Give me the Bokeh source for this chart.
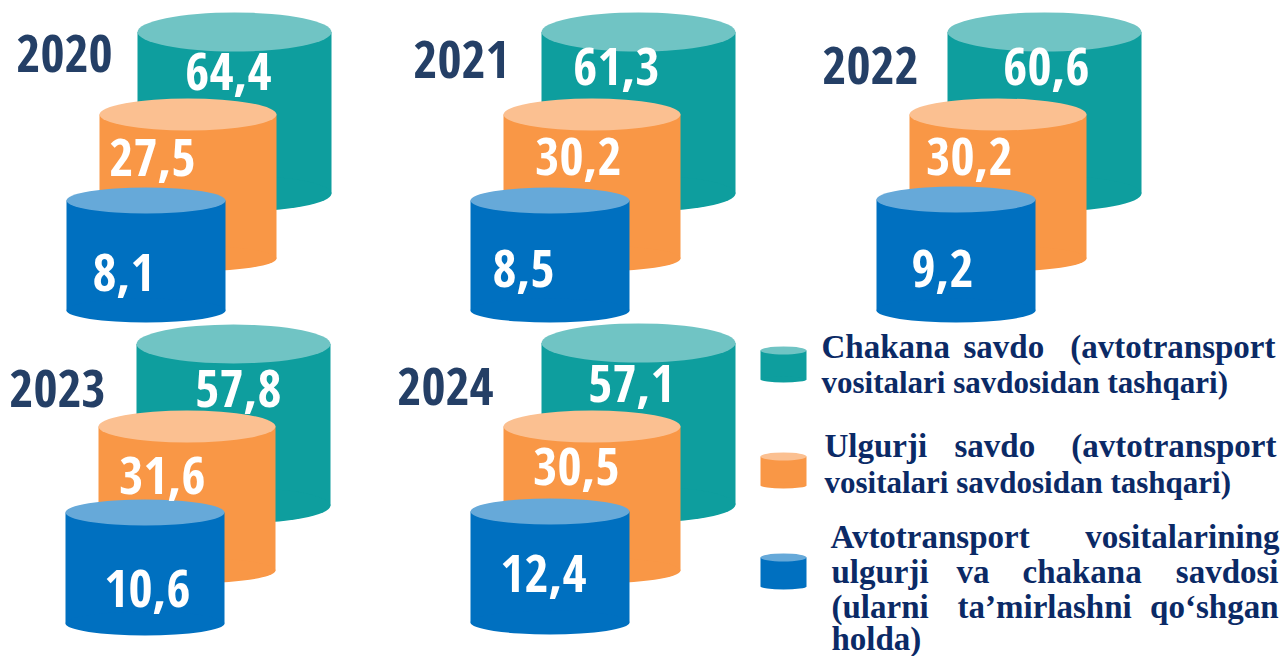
from bokeh.plotting import figure
from bokeh.embed import file_html
from bokeh.resources import INLINE
from bokeh.core.properties import value

# ---------- data ----------
years = ["2020", "2021", "2022", "2023", "2024"]
retail = [64.4, 61.3, 60.6, 57.8, 57.1]
wholesale = [27.5, 30.2, 30.2, 31.6, 30.5]
auto = [8.1, 8.5, 9.2, 10.6, 12.4]

# ---------- layout (pixels) ----------
W, H = 1283, 656
SIDE = {"teal": "#0E9E9E", "orange": "#F99746", "blue": "#0070C0"}
TOP = {"teal": "#70C4C4", "orange": "#FBC091", "blue": "#66A9D9"}
NAVY = "#243F66"
LEG = "#0B2A66"
NUM_FONT = value("Open Sans Condensed")
NUM_SHIFT = 22   # the font's rendered baseline sits below the requested y

# x-left, x-right, top y, bottom y per panel
teal_box = [(137, 331, 12, 211), (541, 735, 12, 211), (947, 1141, 12, 211), (136, 330, 324, 523), (541, 735, 323, 522)]
orange_box = [(99, 276, 98, 271), (503, 680, 98, 271), (909, 1086, 98, 271), (98, 275, 410, 583), (503, 680, 410, 583)]
blue_box = [(66, 225, 187, 322), (470, 629, 187, 322), (876, 1035, 186, 322), (65, 224, 499, 635), (470, 629, 498, 634)]

teal_lab = [(228, 93), (616, 88), (1046, 88), (238, 410), (631, 405)]
orange_lab = [(152, 179), (578, 178), (969, 178), (162, 497), (576, 488)]
blue_lab = [(123, 294), (523, 290), (942, 290), (147, 610), (543, 595)]
year_lab = [(64, 75), (461, 81), (870, 87), (57, 410), (445, 408)]

p = figure(width=W, height=H, x_range=(0, W), y_range=(H, 0), output_backend="svg",
           toolbar_location=None, tools="", min_border=0, outline_line_color=None,
           background_fill_color="white", border_fill_color="white")
p.axis.visible = False
p.grid.visible = False


def cylinder(box, key, cap_h, base_h):
    x0, x1, y0, y1 = box
    cx, w = (x0 + x1) / 2, x1 - x0
    p.quad(left=x0, right=x1, top=y0 + cap_h / 2, bottom=y1 - base_h / 2, fill_color=SIDE[key], line_color=None)
    p.ellipse(x=cx, y=y1 - base_h / 2, width=w, height=base_h, fill_color=SIDE[key], line_color=None)
    p.ellipse(x=cx, y=y0 + cap_h / 2, width=w, height=cap_h, fill_color=TOP[key], line_color=None)


for i in range(len(years)):
    cylinder(teal_box[i], "teal", 39, 36)
    cylinder(orange_box[i], "orange", 32, 26)
    cylinder(blue_box[i], "blue", 26, 24)


def number(v):
    return f"{v:.1f}".replace(".", ",")


for series, pos in ((retail, teal_lab), (wholesale, orange_lab), (auto, blue_lab)):
    p.text(x=[a for a, _ in pos], y=[b - NUM_SHIFT for _, b in pos], text=[number(v) for v in series],
           text_font=NUM_FONT, text_font_style="bold", text_font_size="52px", text_color="white",
           text_align="center", text_baseline="alphabetic")

p.text(x=[a for a, _ in year_lab], y=[b - NUM_SHIFT for _, b in year_lab], text=years,
       text_font=NUM_FONT, text_font_style="bold", text_font_size="52px", text_color=NAVY,
       text_align="center", text_baseline="alphabetic")

# ---------- legend ----------
cylinder((760, 806, 346, 382), "teal", 8, 6)
cylinder((760, 806, 452, 488), "orange", 8, 6)
cylinder((760, 806, 553, 589), "blue", 8, 6)

legend_words = [
    ("Chakana", 821, 357, "left", 33), ("savdo", 963, 357, "left", 33), ("(avtotransport", 1275, 357, "right", 33),
    ("vositalari savdosidan tashqari)", 821, 392, "left", 31),
    ("Ulgurji", 824, 456, "left", 33), ("savdo", 954, 456, "left", 33), ("(avtotransport", 1276, 456, "right", 33),
    ("vositalari savdosidan tashqari)", 824, 492, "left", 31),
    ("Avtotransport", 830, 547, "left", 33), ("vositalarining", 1279, 547, "right", 33),
    ("ulgurji", 831, 582, "left", 33), ("va", 956, 582, "left", 33), ("chakana", 1022, 582, "left", 33), ("savdosi", 1278, 582, "right", 33),
    ("(ularni", 831, 617, "left", 33), ("ta\u2019mirlashni", 957, 617, "left", 33), ("qo\u2018shgan", 1278, 617, "right", 33),
    ("holda)", 831, 649, "left", 33),
]
for word, x, y, align, size in legend_words:
    p.text(x=[x], y=[y - size / 3], text=[word], text_font=value("Liberation Serif"), text_font_style="bold",
           text_font_size=f"{size}px", text_color=LEG, text_align=align, text_baseline="alphabetic")

open("out.html", "w").write(file_html(p, INLINE))
